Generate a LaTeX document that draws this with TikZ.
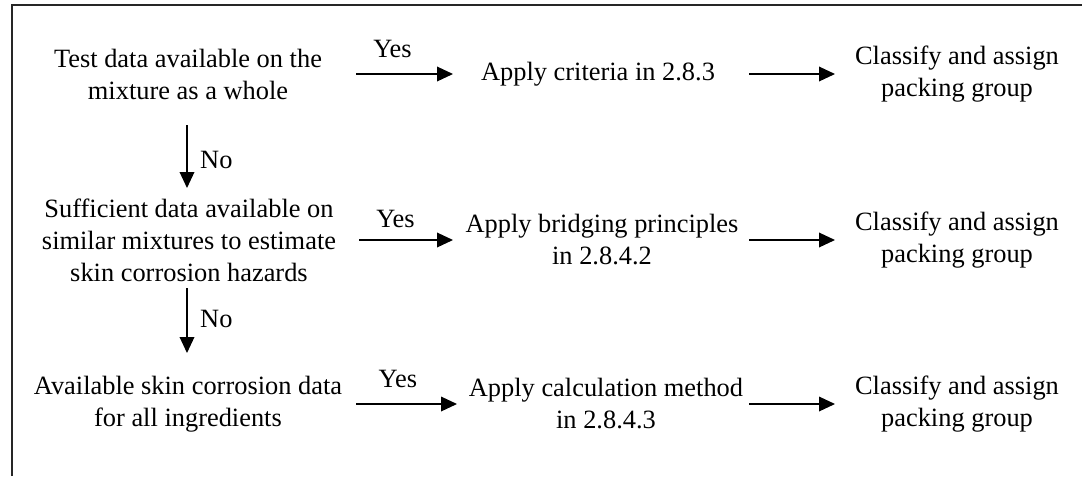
\documentclass[tikz,border=0pt]{standalone}
\usepackage{fontspec}
\setmainfont{Liberation Serif}
\usetikzlibrary{arrows.meta}
\begin{document}
\begin{tikzpicture}[x=0.75pt,y=-0.75pt,
  txt/.style={align=center,inner sep=0pt,font=\fontsize{19.8pt}{24pt}\selectfont},
  lbl/.style={inner sep=0pt,font=\fontsize{19.8pt}{24pt}\selectfont},
  arr/.style={line width=1pt,-{Triangle[length=12pt,width=11pt]}},
  harr/.style={arr,shorten <=126.75pt,shorten >=110.25pt},
  carr/.style={arr,shorten <=111.75pt,shorten >=91.5pt}]
\useasboundingbox (0,0) rectangle (1082,476);
\draw[line width=1.3pt,black!85] (12,476) -- (12,5) -- (1082,5);
% left column
\node[txt] (t1) at (188,74) {Test data available on the\\mixture as a whole};
\node[txt] (t2) at (189,240) {Sufficient data available on\\similar mixtures to estimate\\skin corrosion hazards};
\node[txt] (t3) at (188,404) {Available skin corrosion data\\for all ingredients};
% middle column
\node[txt] (a1) at (598,74) {Apply criteria in 2.8.3};
\node[txt] (a2) at (602,240) {Apply bridging principles\\in 2.8.4.2};
\node[txt] (a3) at (606,404) {Apply calculation method\\in 2.8.4.3};
% right column
\node[txt] (c1) at (957,74) {Classify and assign\\packing group};
\node[txt] (c2) at (957,240) {Classify and assign\\packing group};
\node[txt] (c3) at (957,404) {Classify and assign\\packing group};
% horizontal arrows
\draw[arr,shorten <=126.75pt,shorten >=108.75pt] ([xshift=-0.75pt]t1.center) -- node[lbl,yshift=18.5pt]{Yes} (a1.center);
\draw[arr,shorten <=127.5pt,shorten >=111.75pt] (t2.center) -- node[lbl,yshift=15.5pt]{Yes} (a2.center);
\draw[arr,shorten <=126.75pt,shorten >=111.75pt] ([xshift=-0.75pt]t3.center) -- node[lbl,yshift=19pt,xshift=1pt]{Yes} (a3.center);
\draw[arr,shorten <=113.25pt,shorten >=91.5pt] (a1.center) -- (c1.center);
\draw[arr,shorten <=110.25pt,shorten >=91.5pt] (a2.center) -- (c2.center);
\draw[arr,shorten <=107.25pt,shorten >=91.5pt] (a3.center) -- (c3.center);
% vertical arrows
\draw[arr,shorten <=38.25pt,shorten >=39pt] ([xshift=-0.75pt]t1.center) -- node[lbl,xshift=22pt,yshift=-2pt]{No} ([xshift=-1.5pt]t2.center);
\draw[arr,shorten <=36pt,shorten >=38.25pt] ([xshift=-1.5pt]t2.center) -- node[lbl,xshift=22pt,yshift=2pt]{No} ([xshift=-0.75pt]t3.center);
\end{tikzpicture}
\end{document}
